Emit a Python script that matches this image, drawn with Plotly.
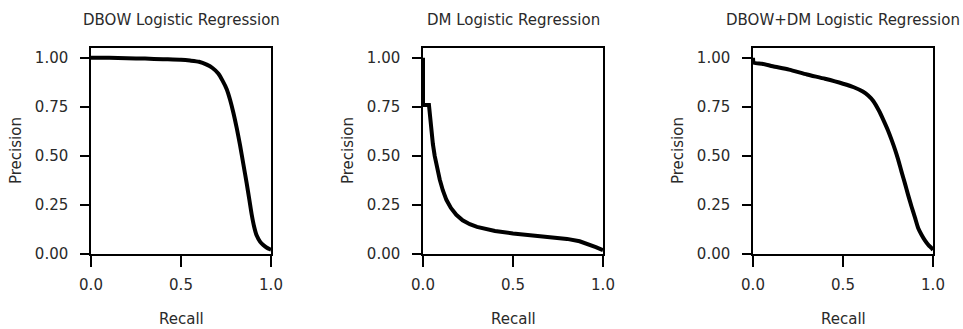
import plotly.graph_objects as go

# ---- data ----
titles = ["DBOW Logistic Regression", "DM Logistic Regression", "DBOW+DM Logistic Regression"]

dbow_recall = [0, 0.1, 0.2, 0.3, 0.4, 0.5, 0.55, 0.6, 0.643, 0.675, 0.707, 0.73, 0.754, 0.773,
               0.791, 0.81, 0.828, 0.846, 0.865, 0.88, 0.893, 0.906, 0.92, 0.94, 0.957, 0.975,
               0.994, 1.0]
dbow_precision = [1.0, 1.0, 0.998, 0.996, 0.993, 0.99, 0.986, 0.98, 0.965, 0.948, 0.92, 0.885,
                  0.84, 0.785, 0.72, 0.64, 0.555, 0.46, 0.36, 0.275, 0.2, 0.14, 0.095, 0.062,
                  0.046, 0.033, 0.024, 0.022]

dm_recall = [0, 0, 0.033, 0.04, 0.046, 0.055, 0.065, 0.08, 0.093, 0.11, 0.13, 0.155, 0.185,
             0.22, 0.26, 0.3, 0.35, 0.4, 0.5, 0.6, 0.7, 0.8, 0.87, 0.92, 0.96, 1.0]
dm_precision = [1.0, 0.76, 0.76, 0.69, 0.62, 0.56, 0.50, 0.43, 0.38, 0.325, 0.276, 0.235, 0.2,
                0.172, 0.152, 0.138, 0.125, 0.117, 0.105, 0.097, 0.088, 0.077, 0.065, 0.05,
                0.035, 0.02]

both_recall = [0, 0.005, 0.05, 0.11, 0.2, 0.3, 0.4, 0.5, 0.56, 0.61, 0.64, 0.668, 0.7, 0.724,
               0.75, 0.77, 0.79, 0.807, 0.825, 0.844, 0.862, 0.881, 0.9, 0.918, 0.937, 0.956,
               0.975, 0.993, 1.0]
both_precision = [1.0, 0.975, 0.97, 0.957, 0.94, 0.915, 0.893, 0.868, 0.85, 0.828, 0.808, 0.78,
                  0.73, 0.684, 0.63, 0.582, 0.53, 0.48, 0.42, 0.36, 0.30, 0.241, 0.185, 0.131,
                  0.097, 0.068, 0.045, 0.029, 0.02]

x_ticks = [0.0, 0.5, 1.0]
x_tick_labels = ["0.0", "0.5", "1.0"]
y_ticks = [0.0, 0.25, 0.5, 0.75, 1.0]
y_tick_labels = ["0.00", "0.25", "0.50", "0.75", "1.00"]

series = [(dbow_recall, dbow_precision, "spline"),
          (dm_recall, dm_precision, "linear"),
          (both_recall, both_precision, "spline")]

W, H = 963, 329
x_px = [(91, 271), (423, 603), (753, 933)]
y_px = (48, 254)

FONT = "DejaVu Sans"
TXT = "#2a2a2a"

fig = go.Figure()
layout = dict(
    template="none",
    width=W, height=H,
    margin=dict(l=0, r=0, t=0, b=0, pad=0),
    paper_bgcolor="white", plot_bgcolor="white",
    showlegend=False,
    font=dict(family=FONT, size=15, color=TXT),
)
annotations = []
for i, ((rx, py, shape), title) in enumerate(zip(series, titles)):
    n = "" if i == 0 else str(i + 1)
    fig.add_trace(go.Scatter(x=rx, y=py, mode="lines",
                             line=dict(color="black", width=4, shape=shape, smoothing=0.6),
                             xaxis="x" + n, yaxis="y" + n, hoverinfo="skip"))
    x0, x1 = x_px[i]
    dom_x = [x0 / W, x1 / W]
    dom_y = [1 - y_px[1] / H, 1 - y_px[0] / H]
    layout["xaxis" + n] = dict(
        domain=dom_x, range=[0, 1.0], anchor="y" + n, automargin=False,
        tickvals=x_ticks, ticktext=x_tick_labels,
        ticks="outside", ticklen=11, tickwidth=1.5, tickcolor="black",
        showline=True, linecolor="black", linewidth=1.5, mirror=True,
        showgrid=False, zeroline=False,
        tickfont=dict(family=FONT, size=15, color=TXT),
        ticklabelstandoff=5,
    )
    layout["yaxis" + n] = dict(
        domain=dom_y, range=[0, 1.05], anchor="x" + n, automargin=False,
        tickvals=y_ticks, ticktext=y_tick_labels,
        ticks="outside", ticklen=9, tickwidth=1.5, tickcolor="black",
        showline=True, linecolor="black", linewidth=1.5, mirror=True,
        showgrid=False, zeroline=False,
        tickfont=dict(family=FONT, size=15, color=TXT),
        ticklabelstandoff=9,
    )
    cx = (x0 + x1) / 2 / W
    annotations.append(dict(text=title, x=cx, y=1 - 20 / H, xref="paper", yref="paper",
                            xanchor="center", yanchor="middle", showarrow=False,
                            font=dict(family=FONT, size=15, color=TXT)))
    annotations.append(dict(text="Recall", x=cx, y=1 - 319 / H, xref="paper", yref="paper",
                            xanchor="center", yanchor="middle", showarrow=False,
                            font=dict(family=FONT, size=15, color=TXT)))
    annotations.append(dict(text="Precision", x=(x0 - 75) / W, y=1 - 151 / H,
                            xref="paper", yref="paper", textangle=-90,
                            xanchor="center", yanchor="middle", showarrow=False,
                            font=dict(family=FONT, size=15, color=TXT)))

layout["annotations"] = annotations
fig.update_layout(**layout)
fig.write_html("out.html")
